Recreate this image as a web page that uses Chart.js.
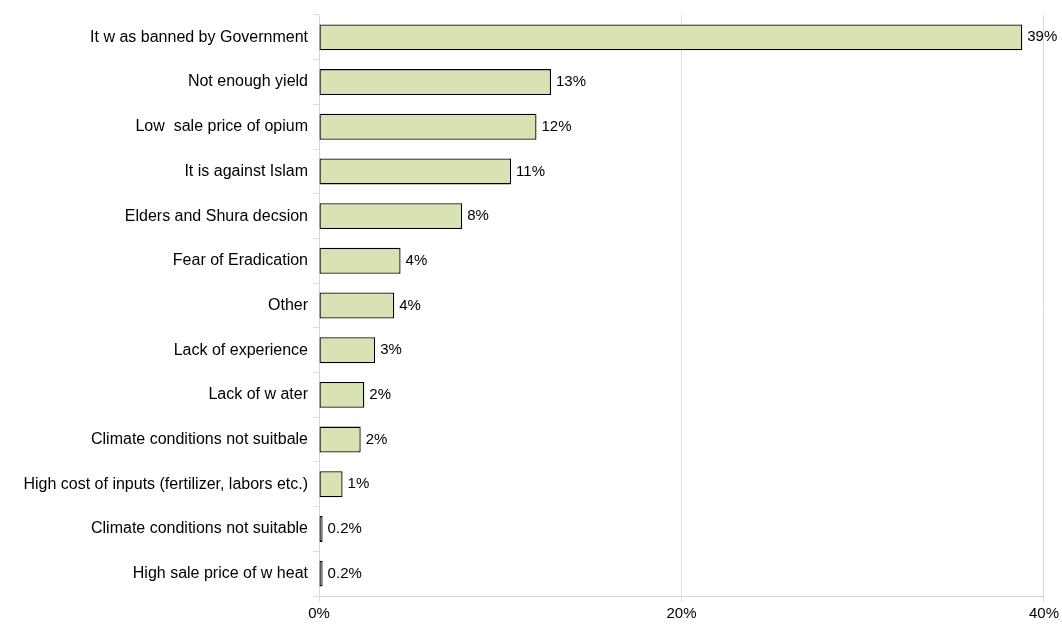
<!DOCTYPE html>
<html>
<head>
<meta charset="utf-8">
<script src="https://cdn.jsdelivr.net/npm/chart.js@4"></script>
<style>
  html, body { margin: 0; padding: 0; background: #fff; }
  #wrap { width: 1062px; height: 626px; }
</style>
</head>
<body>
<div id="wrap"><canvas id="chart"></canvas></div>
<script>
const categories = [
  "It w as banned by Government",
  "Not enough yield",
  "Low  sale price of opium",
  "It is against Islam",
  "Elders and Shura decsion",
  "Fear of Eradication",
  "Other",
  "Lack of experience",
  "Lack of w ater",
  "Climate conditions not suitbale",
  "High cost of inputs (fertilizer, labors etc.)",
  "Climate conditions not suitable",
  "High sale price of w heat"
];
const values = [38.8, 12.8, 12.0, 10.6, 7.9, 4.5, 4.15, 3.1, 2.5, 2.3, 1.3, 0.2, 0.2];
const valueLabels = ["39%", "13%", "12%", "11%", "8%", "4%", "4%", "3%", "2%", "2%", "1%", "0.2%", "0.2%"];
const xTicks = [0, 20, 40];

const FONT = "'Liberation Sans', Arial, sans-serif";

const barLabels = {
  id: "barLabels",
  afterDatasetsDraw(chart) {
    const ctx = chart.ctx;
    const meta = chart.getDatasetMeta(0);
    ctx.save();
    ctx.font = "15px " + FONT;
    ctx.fillStyle = "#000";
    ctx.textBaseline = "middle";
    ctx.textAlign = "left";
    meta.data.forEach((bar, i) => {
      ctx.fillText(valueLabels[i], bar.x + 5, bar.y);
    });
    ctx.restore();
  }
};

const canvas = document.getElementById("chart");
new Chart(canvas, {
  type: "bar",
  data: {
    labels: categories,
    datasets: [{
      data: values,
      backgroundColor: "#D9E2B3",
      borderColor: "#000",
      borderWidth: 1.3,
      borderSkipped: false,
      categoryPercentage: 1,
      barPercentage: 0.58
    }]
  },
  options: {
    indexAxis: "y",
    responsive: true,
    maintainAspectRatio: false,
    animation: false,
    layout: { padding: { top: 15, right: 17, left: 0, bottom: 0 } },
    plugins: { legend: { display: false }, tooltip: { enabled: false } },
    scales: {
      x: {
        min: 0,
        max: 40,
        afterBuildTicks: (scale) => { scale.ticks = xTicks.map(v => ({ value: v })); },
        ticks: {
          callback: (v) => v + "%",
          color: "#000",
          font: { family: FONT, size: 15 },
          padding: 3,
          maxRotation: 0
        },
        grid: { color: "#dedede", tickLength: 6, drawTicks: true },
        border: { color: "#d8d8d8" },
        afterFit: (scale) => { scale.height = 30; }
      },
      y: {
        grid: { offset: true, drawOnChartArea: false, color: "#dedede", tickLength: 6 },
        border: { color: "#d8d8d8" },
        ticks: {
          color: "#000",
          font: { family: FONT, size: 16 },
          padding: 5,
          autoSkip: false
        },
        afterFit: (scale) => { scale.width = 319; }
      }
    }
  },
  plugins: [barLabels]
});
</script>
</body>
</html>
